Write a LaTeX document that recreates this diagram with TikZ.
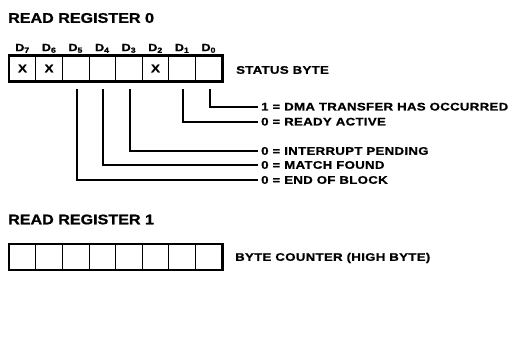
\documentclass[tikz,border=0pt]{standalone}
\usepackage{fontspec}
\newfontfamily\lblfont[FakeStretch=1.2,LetterSpace=3,FakeBold=1]{Liberation Sans Bold}
\newfontfamily\headfont[FakeStretch=1.15,FakeBold=1]{Liberation Sans Bold}
\usetikzlibrary{positioning}
\begin{document}
\begin{tikzpicture}[x=1pt, y=-1pt,
            cell/.style={draw, line width=1pt, minimum width=26.6pt, minimum height=25pt, inner sep=0pt, font=\lblfont\fontsize{11}{12}\selectfont},
            bitname/.style={inner sep=1pt, font=\lblfont\fontsize{10.5}{11}\selectfont},
            heading/.style={anchor=west, inner sep=0pt, font=\headfont\fontsize{14}{16}\selectfont},
            caption/.style={anchor=west, inner sep=3pt, font=\lblfont\fontsize{11}{12}\selectfont},
            frame/.style={line width=2.2pt},
            lead/.style={line width=1.8pt}
        ]
            \useasboundingbox (0,0) rectangle (524,347);

            \node[heading] (head0) at (8,18) {READ REGISTER 0};
            \foreach \b in {0,...,7} {
                \node[cell] (a\b) at ({22.5+26.6*(7-\b)},68.5) {};
                \node[bitname, above=1.5pt of a\b] (d\b) {D\textsubscript{\b}};
            }
            \draw[frame] (a7.north west) rectangle (a0.south east);
            \node[cell, draw=none] (x7) at (a7) {X};
            \node[cell, draw=none] (x6) at (a6) {X};
            \node[cell, draw=none] (x2) at (a2) {X};
            \node[caption] (status) at (233,70) {STATUS BYTE};

            \node[caption] (l0) at (258,106.7) {1 = DMA TRANSFER HAS OCCURRED};
            \node[caption] (l1) at (258,121.7) {0 = READY ACTIVE};
            \node[caption] (l3) at (258,151) {0 = INTERRUPT PENDING};
            \node[caption] (l4) at (258,165) {0 = MATCH FOUND};
            \node[caption] (l5) at (258,180) {0 = END OF BLOCK};
            \draw[lead] ([yshift=-8pt, xshift=1pt]a0.south) |- (l0.west);
            \draw[lead] ([yshift=-8pt, xshift=1pt]a1.south) |- (l1.west);
            \draw[lead] ([yshift=-8pt, xshift=1pt]a3.south) |- (l3.west);
            \draw[lead] ([yshift=-8pt, xshift=1pt]a4.south) |- (l4.west);
            \draw[lead] ([yshift=-8pt, xshift=1pt]a5.south) |- (l5.west);

            \node[heading] (head1) at (8,219.5) {READ REGISTER 1};
            \foreach \b in {0,...,7}
                \node[cell] (b\b) at ({22.5+26.6*(7-\b)},257) {};
            \draw[frame] (b7.north west) rectangle (b0.south east);
            \node[caption] (count) at (232,258) {BYTE COUNTER (HIGH BYTE)};
        \end{tikzpicture}
\end{document}
